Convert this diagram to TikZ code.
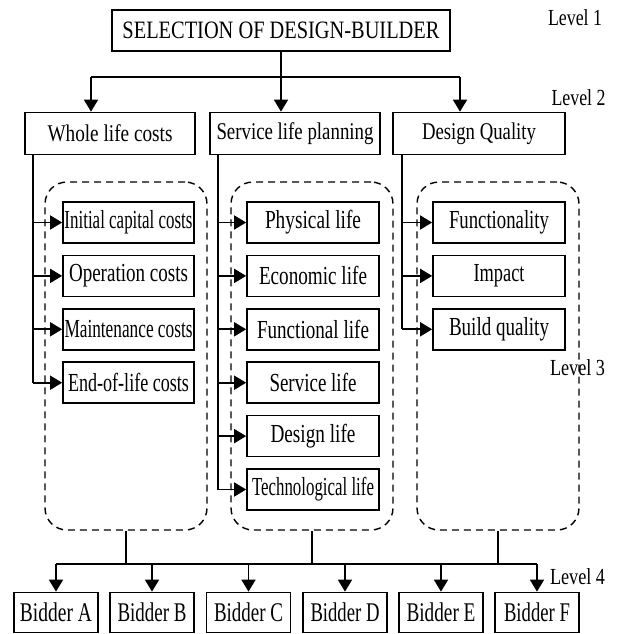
\documentclass[tikz,border=0pt]{standalone}
\usepackage{fontspec}
\setmainfont{Liberation Serif}
\usetikzlibrary{arrows.meta}
% set a text at a given width, keeping its natural height
\newcommand\fitw[2]{\resizebox{#1pt}{\height}{#2}}

\begin{document}
\begin{tikzpicture}[x=1pt,y=-1pt,
  box/.style={draw, line width=1.7pt, inner sep=0pt, minimum height=41pt},
  topbox/.style={box, minimum width=338pt, minimum height=41pt, font=\fontsize{25}{29}\selectfont},
  catbox/.style={box, minimum height=42pt, font=\fontsize{24}{28}\selectfont},
  itembox/.style={box, minimum width=131pt, minimum height=41pt, font=\fontsize{26}{30}\selectfont},
  bidbox/.style={box, minimum width=84pt, minimum height=40pt, font=\fontsize{27}{31}\selectfont},
  group/.style={draw, line width=1.4pt, dash pattern=on 7pt off 5pt, rounded corners=22pt,
                inner sep=0pt, minimum width=162pt, minimum height=348pt},
  lvl/.style={inner sep=0pt, font=\fontsize{23}{27}\selectfont},
  link/.style={line width=1.7pt},
  arr/.style={link, -{Triangle[length=12pt,width=14pt]}}]

\useasboundingbox[fill=white] (0,0) rectangle (616,634);

% level 1
\node[topbox] (top) at (281,30.5) {\fitw{317}{SELECTION OF DESIGN-BUILDER}};

% level 2
\node[catbox, minimum width=170pt] (wlc) at (110,133.5) {\fitw{125}{Whole life costs}};
\node[catbox, minimum width=170pt] (slp) at (295,133.5) {\fitw{157}{Service life planning}};
\node[catbox, minimum width=172pt] (dq)  at (479,133.5) {\fitw{114}{Design Quality}};

% dashed groups
\node[group] (gL) at (126,356) {};
\node[group] (gM) at (312,356) {};
\node[group] (gR) at (498,356) {};

% level 3, whole life costs
\node[itembox] (c1) at (128.5,222.5) {\fitw{128}{Initial capital costs}};
\node[itembox] (c2) at (128.5,275.9) {\fitw{119}{Operation costs}};
\node[itembox] (c3) at (128.5,329.3) {\fitw{128}{Maintenance costs}};
\node[itembox] (c4) at (128.5,382.7) {\fitw{121}{End-of-life costs}};

% level 3, service life planning
\node[itembox, minimum width=132pt] (s1) at (313,222.5) {\fitw{96}{Physical life}};
\node[itembox, minimum width=132pt] (s2) at (313,275.9) {\fitw{108}{Economic life}};
\node[itembox, minimum width=132pt] (s3) at (313,329.3) {\fitw{112}{Functional life}};
\node[itembox, minimum width=132pt] (s4) at (313,382.7) {\fitw{87}{Service life}};
\node[itembox, minimum width=132pt] (s5) at (313,436.1) {\fitw{85}{Design life}};
\node[itembox, minimum width=132pt] (s6) at (313,489.5) {\fitw{122}{Technological life}};

% level 3, design quality
\node[itembox, minimum width=132pt] (q1) at (499,222.5) {\fitw{100}{Functionality}};
\node[itembox, minimum width=132pt] (q2) at (499,275.9) {\fitw{51}{Impact}};
\node[itembox, minimum width=132pt] (q3) at (499,329.3) {\fitw{100}{Build quality}};

% level 4
\node[bidbox] (bA) at (56,612.5)  {\fitw{72}{Bidder A}};
\node[bidbox] (bB) at (152,612.5) {\fitw{69}{Bidder B}};
\node[bidbox] (bC) at (248.5,612.5) {\fitw{69}{Bidder C}};
\node[bidbox] (bD) at (345,612.5) {\fitw{69}{Bidder D}};
\node[bidbox] (bE) at (441,612.5) {\fitw{69}{Bidder E}};
\node[bidbox] (bF) at (537,612.5) {\fitw{66}{Bidder F}};

% level labels
\node[lvl] (l1) at (575,18)  {\fitw{54}{Level 1}};
\node[lvl] (l2) at (578.5,98) {\fitw{54}{Level 2}};
\node[lvl] (l3) at (577.5,368) {\fitw{55}{Level 3}};
\node[lvl] (l4) at (577.5,577) {\fitw{55}{Level 4}};

% level 1 -> level 2
\coordinate (t1) at (91,77);
\coordinate (t3) at (460,77);
\draw[link] (t1) -- (t3);
\draw[arr] (top.south) -- (top.south |- slp.north);
\draw[arr] (t1) -- (t1 |- wlc.north);
\draw[arr] (t3) -- (t3 |- dq.north);

% level 2 -> level 3
\coordinate (fL) at (33,154.5);
\coordinate (fM) at (218,154.5);
\coordinate (fR) at (402,154.5);
\draw[link] (fL) -- (fL |- c4.west);
\draw[link] (fM) -- (fM |- s6.west);
\draw[link] (fR) -- (fR |- q3.west);
\foreach \n in {c1,c2,c3,c4} \draw[arr] (fL |- \n.west) -- (\n.west);
\foreach \n in {s1,s2,s3,s4,s5,s6} \draw[arr] (fM |- \n.west) -- (\n.west);
\foreach \n in {q1,q2,q3} \draw[arr] (fR |- \n.west) -- (\n.west);

% level 3 -> level 4
\coordinate (bus) at (0,564);
\draw[link] (gL.south) -- (gL.south |- bus);
\draw[link] (gM.south) -- (gM.south |- bus);
\draw[link] (gR.south) -- (gR.south |- bus);
\draw[link] (bA.north |- bus) -- (bF.north |- bus);
\foreach \n in {bA,bB,bC,bD,bE,bF} \draw[arr] (\n.north |- bus) -- (\n.north);

\end{tikzpicture}
\end{document}
